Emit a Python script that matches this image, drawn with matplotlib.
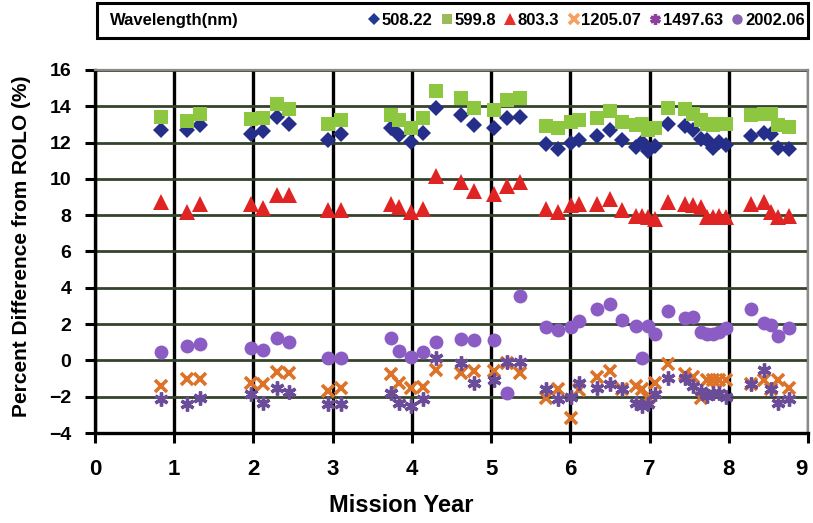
from matplotlib import pyplot as plt
from matplotlib.lines import Line2D
from matplotlib.patches import Rectangle

OUT_FILENAME = 'out.png'

FONT = ['Liberation Sans', 'DejaVu Sans']

# mission year of each observation
years = [0.83, 1.16, 1.32, 1.97, 2.12, 2.30, 2.45, 2.94, 3.10, 3.74, 3.84,
         3.99, 4.14, 4.31, 4.62, 4.79, 5.04, 5.20, 5.37, 5.69, 5.84, 6.01,
         6.11, 6.34, 6.50, 6.65, 6.83, 6.90, 6.98, 7.07, 7.23, 7.45, 7.55,
         7.65, 7.73, 7.80, 7.88, 7.96, 8.28, 8.45, 8.53, 8.62, 8.76]

# percent difference from ROLO per wavelength
d508 = [12.69, 12.70, 12.96, 12.50, 12.63, 13.39, 13.05, 12.17, 12.50, 12.78,
        12.41, 12.04, 12.54, 13.88, 13.51, 12.96, 12.83, 13.37, 13.39, 11.91,
        11.64, 11.99, 12.17, 12.35, 12.72, 12.13, 11.76, 12.04, 11.52, 11.80,
        13.00, 12.90, 12.72, 12.22, 12.13, 11.73, 12.04, 11.86, 12.37, 12.54,
        12.50, 11.73, 11.67]
d600 = [13.39, 13.18, 13.60, 13.28, 13.33, 14.10, 13.83, 13.00, 13.24, 13.51,
        13.24, 12.78, 13.33, 14.84, 14.44, 13.92, 13.79, 14.34, 14.44, 12.90,
        12.78, 13.14, 13.24, 13.37, 13.75, 13.14, 12.96, 13.05, 12.69, 12.78,
        13.88, 13.83, 13.60, 13.24, 13.05, 12.96, 13.00, 13.05, 13.51, 13.55,
        13.55, 12.96, 12.87]
d803 = [8.72, 8.17, 8.63, 8.63, 8.41, 9.10, 9.10, 8.27, 8.30, 8.63, 8.45,
        8.17, 8.36, 10.14, 9.83, 9.31, 9.19, 9.59, 9.83, 8.36, 8.17, 8.54,
        8.63, 8.63, 8.91, 8.27, 7.93, 7.93, 7.90, 7.81, 8.72, 8.63, 8.54,
        8.45, 7.90, 7.90, 7.93, 7.90, 8.63, 8.72, 8.17, 7.90, 7.93]
d1205 = [-1.40, -1.03, -1.03, -1.22, -1.31, -0.62, -0.67, -1.68, -1.50, -0.76,
         -1.27, -1.50, -1.46, -0.54, -0.67, -0.57, -0.57, -0.15, -0.72, -2.05,
         -1.59, -3.15, -1.64, -0.94, -0.57, -1.59, -1.40, -1.59, -2.05, -1.22,
         -0.20, -0.76, -0.94, -2.05, -1.10, -1.10, -1.10, -1.10, -1.30, -1.10,
         -1.59, -1.10, -1.50]
d1498 = [-2.15, -2.38, -2.05, -1.86, -2.32, -1.54, -1.72, -2.42, -2.38, -1.77,
         -2.32, -2.51, -2.15, 0.15, -0.15, -1.22, -1.10, -0.09, -0.09, -1.59,
         -2.15, -2.02, -1.22, -1.50, -1.31, -1.59, -2.32, -2.51, -2.42, -1.86,
         -0.98, -0.98, -1.40, -1.68, -1.96, -1.77, -1.77, -2.02, -1.31, -0.54,
         -1.59, -2.32, -2.15]
d2002 = [0.49, 0.81, 0.90, 0.66, 0.59, 1.23, 1.04, 0.12, 0.12, 1.23, 0.53,
         0.16, 0.48, 0.99, 1.17, 1.13, 1.11, -1.77, 3.57, 1.86, 1.67, 1.86,
         2.19, 2.83, 3.11, 2.23, 1.91, 0.12, 1.91, 1.45, 2.74, 2.32, 2.37,
         1.58, 1.45, 1.45, 1.54, 1.79, 2.83, 2.04, 1.96, 1.35, 1.79]

labels = ['508.22', '599.8', '803.3', '1205.07', '1497.63', '2002.06']
series = [d508, d600, d803, d1205, d1498, d2002]
styles = [
    dict(marker='D', ms=8, color='#252f8a', mew=0),
    dict(marker='s', ms=10, color='#8dc63f', mew=0),
    dict(marker='^', ms=11, color='#e02424', mew=0),
    dict(marker='x', ms=9, color='#dd7329', mew=2.6),
    dict(marker=(6, 2, 0), ms=10, color='#6a4c98', mew=2.4),
    dict(marker='o', ms=10, color='#8b5cc4', mew=0),
]
legend_colors = ['#1f3a93', '#9bbb59', '#e8302a', '#f7a060', '#8e3ea0', '#8a64b4']


def make_chart():
    fig = plt.figure(figsize=(8.13, 5.23), dpi=100)
    ax = fig.add_axes([95 / 813, 90 / 523, 713 / 813, 363 / 523])

    for vals, st in zip(series, styles):
        ax.plot(years, vals, linestyle='none', **st, zorder=3)

    ax.set_xlim(0, 9)
    ax.set_ylim(-4, 16)
    ax.set_xticks(range(0, 10))
    ax.set_yticks(range(-4, 17, 2))

    ax.grid(axis='x', color='black', linewidth=2.4, zorder=1)
    ax.grid(axis='y', color='#34432c', linewidth=2.0, zorder=1)
    ax.set_axisbelow(True)

    for side in ['left', 'bottom']:
        ax.spines[side].set_linewidth(2.4)
        ax.spines[side].set_color('black')
    for side in ['top', 'right']:
        ax.spines[side].set_linewidth(1.6)
        ax.spines[side].set_color('#8a8a8a')

    ax.tick_params(axis='both', direction='out', length=7, width=2.2, color='black')
    ax.tick_params(axis='x', pad=12)
    ax.tick_params(axis='y', pad=10)
    for t in ax.get_xticklabels():
        t.set_fontfamily(FONT)
        t.set_fontweight('bold')
        t.set_fontsize(16)
    xt = ax.get_xticklabels()
    xt[-1].set_horizontalalignment('right')
    for t in ax.get_yticklabels():
        t.set_fontfamily(FONT)
        t.set_fontweight('bold')
        t.set_fontsize(14)

    ax.set_xlabel('Mission Year', fontfamily=FONT, fontweight='bold', fontsize=17)
    ax.xaxis.set_label_coords((401 - 95) / 713, (433 - 494) / 363)
    ax.set_ylabel('Percent Difference from ROLO (%)', fontfamily=FONT,
                  fontweight='bold', fontsize=15)
    ax.yaxis.set_label_coords((31 - 95) / 713, (433 - 246) / 363)

    # legend box with its heading on the left
    fig.patches.append(Rectangle((97 / 813, (523 - 38) / 523), 711 / 813, 35 / 523,
                                 transform=fig.transFigure, facecolor='white',
                                 edgecolor='black', linewidth=2.2, zorder=5))
    fig.text(110 / 813, (523 - 20) / 523, 'Wavelength(nm)', ha='left', va='center',
             fontfamily=FONT, fontweight='bold', fontsize=12, zorder=6)

    handles = []
    for st, col in zip(styles, legend_colors):
        h = dict(st)
        h['ms'] = h['ms'] * 0.75
        h['color'] = col
        handles.append(Line2D([], [], linestyle='none', **h))
    leg = fig.legend(handles, labels, loc='center', ncol=6, mode='expand',
                     bbox_to_anchor=(366 / 813, (523 - 38) / 523, 442 / 813, 35 / 523),
                     borderaxespad=0, borderpad=0.2, handlelength=0.6,
                     handletextpad=0.15, columnspacing=0.4, frameon=False,
                     prop=dict(family=FONT, weight='bold', size=12))
    leg.set_zorder(7)

    fig.savefig(OUT_FILENAME, dpi=100, facecolor='white')
    plt.close(fig)


if __name__ == '__main__':
    make_chart()
